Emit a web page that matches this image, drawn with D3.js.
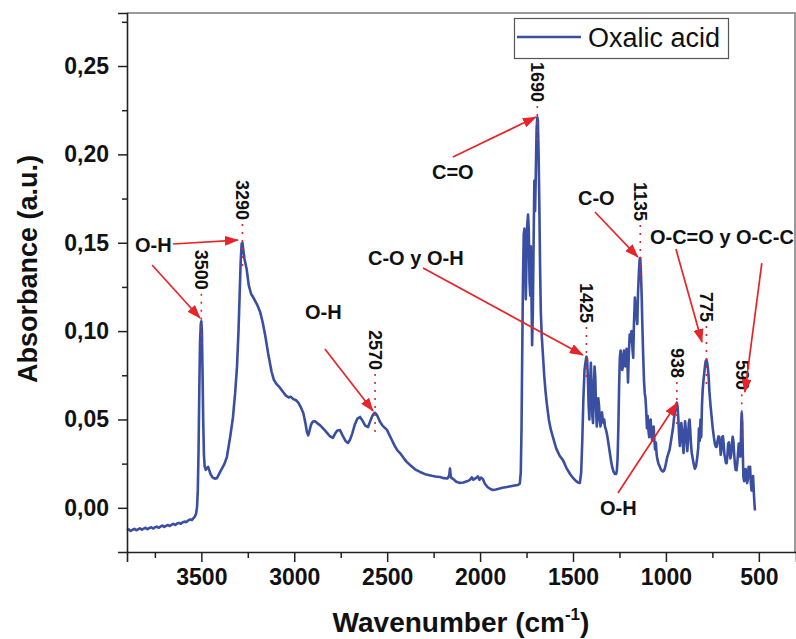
<!DOCTYPE html>
<html>
<head>
<meta charset="utf-8">
<script src="https://cdn.jsdelivr.net/npm/d3@7"></script>
<style>
  body { margin: 0; background: #fff; }
  text { font-family: "Liberation Sans", Arial, sans-serif; }
</style>
</head>
<body>
<svg id="chart" width="796" height="639"></svg>
<script>
// wavenumber (cm-1), absorbance (a.u.)
const oxalicAcid = [
  [3900, -0.0128], [3890, -0.0122], [3880, -0.0131], [3870, -0.0124], [3860, -0.0119],
  [3850, -0.0127], [3840, -0.0121], [3830, -0.0116], [3820, -0.0124], [3810, -0.0118],
  [3800, -0.0113], [3790, -0.0121], [3780, -0.0115], [3770, -0.011], [3760, -0.0117],
  [3750, -0.0111], [3740, -0.0106], [3730, -0.0113], [3720, -0.0107], [3710, -0.0101],
  [3700, -0.0108], [3690, -0.0102], [3680, -0.0097], [3670, -0.0103], [3660, -0.0096],
  [3650, -0.0091], [3640, -0.0097], [3630, -0.0089], [3620, -0.0085], [3610, -0.009],
  [3600, -0.0082], [3590, -0.0078], [3580, -0.008], [3570, -0.0071], [3560, -0.0066],
  [3550, -0.0069], [3542, -0.0058], [3535, -0.005], [3528, -0.0032], [3523, 0.0005],
  [3519, 0.01], [3515, 0.032], [3511, 0.066], [3507, 0.094], [3503, 0.104],
  [3500, 0.1055], [3497, 0.1], [3494, 0.08], [3490, 0.05], [3486, 0.03],
  [3482, 0.0235], [3476, 0.0215], [3470, 0.0225], [3464, 0.0232], [3458, 0.0215],
  [3450, 0.019], [3440, 0.0172], [3428, 0.0165], [3416, 0.0168], [3400, 0.02],
  [3390, 0.022], [3375, 0.025], [3362, 0.029], [3345, 0.04], [3330, 0.051],
  [3318, 0.065], [3308, 0.08], [3300, 0.1], [3294, 0.12], [3288, 0.14],
  [3283, 0.1495], [3279, 0.15], [3274, 0.146], [3268, 0.141], [3262, 0.138],
  [3256, 0.135], [3245, 0.126], [3232, 0.121], [3220, 0.119], [3200, 0.115],
  [3184, 0.111], [3170, 0.105], [3157, 0.098], [3140, 0.087], [3122, 0.077],
  [3110, 0.0725], [3095, 0.07], [3077, 0.068], [3060, 0.0655], [3045, 0.0635],
  [3030, 0.0625], [3018, 0.0628], [3005, 0.0615], [2992, 0.061], [2978, 0.0595],
  [2965, 0.057], [2951, 0.0535], [2940, 0.048], [2932, 0.043], [2925, 0.041],
  [2918, 0.0435], [2910, 0.047], [2900, 0.0488], [2888, 0.049], [2875, 0.0478],
  [2862, 0.0468], [2850, 0.0455], [2835, 0.0438], [2820, 0.042], [2808, 0.0405],
  [2792, 0.0396], [2780, 0.042], [2768, 0.0438], [2754, 0.044], [2740, 0.041],
  [2725, 0.038], [2711, 0.0367], [2700, 0.0385], [2688, 0.042], [2675, 0.0468],
  [2660, 0.0505], [2646, 0.0514], [2632, 0.0492], [2618, 0.0465], [2603, 0.0457],
  [2592, 0.0488], [2580, 0.052], [2570, 0.0535], [2565, 0.0538], [2555, 0.0525],
  [2540, 0.049], [2525, 0.0465], [2501, 0.0441], [2480, 0.0395], [2460, 0.0352],
  [2445, 0.0325], [2431, 0.031], [2410, 0.028], [2395, 0.026], [2377, 0.0242],
  [2350, 0.0218], [2323, 0.0203], [2290, 0.0188], [2260, 0.0181], [2240, 0.0177],
  [2216, 0.0174], [2195, 0.0168], [2175, 0.0166], [2166, 0.0185], [2162, 0.0222],
  [2157, 0.0172], [2146, 0.0164], [2128, 0.0148], [2108, 0.0141], [2090, 0.0143],
  [2070, 0.015], [2055, 0.0158], [2044, 0.0172], [2036, 0.0159], [2025, 0.0166],
  [2012, 0.0178], [2003, 0.0158], [1995, 0.0171], [1985, 0.0163], [1975, 0.0138],
  [1960, 0.0118], [1945, 0.0106], [1931, 0.0101], [1915, 0.0104], [1900, 0.0108],
  [1880, 0.0114], [1856, 0.0118], [1835, 0.0122], [1815, 0.0126], [1796, 0.0129],
  [1786, 0.0138], [1781, 0.02], [1777, 0.045], [1773, 0.09], [1769, 0.13],
  [1765, 0.155], [1761, 0.158], [1757, 0.14], [1754, 0.118], [1750, 0.142],
  [1746, 0.16], [1742, 0.166], [1738, 0.158], [1734, 0.128], [1730, 0.12],
  [1727, 0.148], [1724, 0.125], [1720, 0.092], [1716, 0.112], [1712, 0.15],
  [1708, 0.185], [1704, 0.168], [1700, 0.19], [1696, 0.214], [1692, 0.221],
  [1689, 0.219], [1685, 0.2], [1681, 0.17], [1677, 0.135], [1673, 0.11],
  [1668, 0.097], [1662, 0.087], [1655, 0.075], [1648, 0.066], [1641, 0.059],
  [1630, 0.05], [1620, 0.0445], [1608, 0.04], [1590, 0.0335], [1572, 0.0295],
  [1554, 0.027], [1535, 0.0225], [1515, 0.019], [1500, 0.0169], [1485, 0.0152],
  [1472, 0.0143], [1463, 0.0141], [1456, 0.02], [1450, 0.038], [1444, 0.062],
  [1438, 0.078], [1432, 0.083], [1428, 0.0855], [1424, 0.084], [1420, 0.074],
  [1416, 0.058], [1412, 0.05], [1408, 0.07], [1404, 0.082], [1400, 0.07],
  [1396, 0.052], [1392, 0.048], [1388, 0.066], [1384, 0.08], [1380, 0.074],
  [1376, 0.056], [1372, 0.046], [1368, 0.052], [1364, 0.062], [1360, 0.058],
  [1356, 0.05], [1352, 0.046], [1348, 0.052], [1344, 0.054], [1340, 0.05],
  [1336, 0.048], [1332, 0.05], [1328, 0.046], [1322, 0.044], [1316, 0.041],
  [1310, 0.037], [1303, 0.032], [1296, 0.027], [1289, 0.023], [1282, 0.0205],
  [1275, 0.0192], [1268, 0.0192], [1264, 0.021], [1260, 0.028], [1256, 0.045],
  [1252, 0.068], [1248, 0.085], [1244, 0.089], [1240, 0.086], [1235, 0.078],
  [1230, 0.081], [1226, 0.089], [1222, 0.086], [1218, 0.08], [1212, 0.09],
  [1208, 0.086], [1204, 0.071], [1200, 0.086], [1195, 0.098], [1190, 0.094],
  [1185, 0.1], [1180, 0.09], [1176, 0.085], [1172, 0.104], [1167, 0.119],
  [1162, 0.112], [1158, 0.108], [1154, 0.104], [1150, 0.122], [1145, 0.134],
  [1141, 0.141], [1138, 0.1415], [1134, 0.132], [1130, 0.118], [1126, 0.1],
  [1122, 0.085], [1118, 0.072], [1114, 0.065], [1110, 0.062], [1106, 0.055],
  [1102, 0.045], [1098, 0.052], [1094, 0.044], [1090, 0.04], [1086, 0.048],
  [1082, 0.05], [1078, 0.042], [1074, 0.038], [1070, 0.044], [1066, 0.046],
  [1062, 0.038], [1058, 0.033], [1054, 0.037], [1050, 0.03], [1045, 0.027],
  [1040, 0.025], [1034, 0.0235], [1028, 0.022], [1022, 0.021], [1016, 0.0205],
  [1010, 0.021], [1004, 0.023], [998, 0.026], [992, 0.029], [986, 0.031],
  [980, 0.033], [974, 0.037], [968, 0.041], [962, 0.045], [956, 0.051],
  [950, 0.055], [945, 0.058], [941, 0.0595], [937, 0.057], [933, 0.05],
  [929, 0.041], [925, 0.035], [921, 0.042], [917, 0.048], [913, 0.044],
  [909, 0.036], [905, 0.031], [901, 0.04], [897, 0.049], [893, 0.045],
  [889, 0.038], [885, 0.032], [881, 0.038], [877, 0.048], [873, 0.05],
  [869, 0.044], [865, 0.036], [861, 0.031], [856, 0.028], [850, 0.0245],
  [844, 0.0221], [838, 0.0235], [832, 0.028], [826, 0.034], [822, 0.045],
  [818, 0.038], [814, 0.05], [810, 0.04], [806, 0.058], [802, 0.067],
  [798, 0.072], [794, 0.076], [790, 0.08], [786, 0.083], [782, 0.0837],
  [778, 0.082], [774, 0.079], [770, 0.074], [766, 0.066], [760, 0.058],
  [754, 0.0514], [748, 0.045], [742, 0.04], [736, 0.036], [731, 0.0345],
  [727, 0.0345], [722, 0.038], [717, 0.0405], [713, 0.04], [709, 0.036],
  [705, 0.03], [701, 0.033], [697, 0.04], [693, 0.0405], [689, 0.036],
  [685, 0.03], [681, 0.028], [677, 0.0253], [673, 0.0253], [669, 0.03],
  [665, 0.0364], [661, 0.037], [657, 0.032], [653, 0.028], [649, 0.03],
  [645, 0.036], [641, 0.0402], [637, 0.038], [633, 0.031], [629, 0.025],
  [625, 0.0215], [620, 0.0213], [616, 0.025], [612, 0.031], [608, 0.0364],
  [604, 0.034], [600, 0.029], [597, 0.036], [594, 0.05], [592, 0.0537],
  [589, 0.048], [586, 0.03], [583, 0.0174], [579, 0.015], [575, 0.016],
  [571, 0.022], [567, 0.019], [563, 0.014], [559, 0.016], [555, 0.0232],
  [551, 0.021], [547, 0.0232], [543, 0.014], [539, 0.0098], [535, 0.014],
  [531, 0.018], [527, 0.009], [524, 0.003], [521, -0.0015]
];

const xTicks = [3500, 3000, 2500, 2000, 1500, 1000, 500];
const xMinorTicks = [3750, 3250, 2750, 2250, 1750, 1250, 750];
const yTicks = [0, 0.05, 0.1, 0.15, 0.2, 0.25];
const yMinorTicks = [0.025, 0.075, 0.125, 0.175, 0.225, 0.275];

// peak labels: text, wavenumber, absorbance of the label's top end
const peakLabels = ["3500", "3290", "2570", "1690", "1425", "1135", "938", "775", "590"];
const peakWn = [3500, 3279, 2565, 1692, 1428, 1138, 941, 782, 592];
const peakLabelTop = [0.146, 0.1855, 0.1006, 0.2523, 0.1272, 0.1844, 0.0904, 0.1221, 0.0836];

// band assignments: text, wavenumber of left edge, absorbance of middle
const bandLabels = ["O-H", "O-H", "C=O", "C-O y O-H", "C-O", "O-C=O y O-C-C", "O-H"];
const bandWn = [3857, 2942, 2259, 2603, 1473, 1086, 1355];
const bandAbs = [0.1487, 0.1108, 0.19, 0.1414, 0.1753, 0.1532, 0.0];

// arrows: from [wn, abs] to [wn, abs]
const arrows = [
  [3653, 0.1493, 3303, 0.1515],
  [3765, 0.1374, 3507, 0.1074],
  [2835, 0.0899, 2576, 0.0548],
  [2146, 0.1985, 1700, 0.2211],
  [2307, 0.1357, 1447, 0.0865],
  [1382, 0.1674, 1151, 0.1419],
  [946, 0.1464, 806, 0.0938],
  [484, 0.1385, 575, 0.0655],
  [1258, 0.0084, 941, 0.0593]
];

const blue = "#3a4ea2";
const red = "#e8242b";
const margin = { left: 127, right: 795, top: 13, bottom: 552 };

const x = d3.scaleLinear().domain([3900, 300]).range([margin.left, 796]);
const y = d3.scaleLinear().domain([-0.025, 0.28]).range([margin.bottom, margin.top]);

const comma = d3.formatLocale({ decimal: ",", thousands: ".", grouping: [3], currency: ["", ""] });
const fmt = comma.format(".2f");

const svg = d3.select("#chart");

svg.append("defs")
  .append("marker")
  .attr("id", "head")
  .attr("markerUnits", "userSpaceOnUse")
  .attr("viewBox", "0 0 14 10")
  .attr("markerWidth", 14)
  .attr("markerHeight", 10)
  .attr("refX", 13)
  .attr("refY", 5)
  .attr("orient", "auto")
  .append("path")
  .attr("d", "M0,0 L14,5 L0,10 Z")
  .attr("fill", red);

// frame
svg.append("path")
  .attr("d", `M${margin.left},${margin.top} H${margin.right} V${margin.bottom}`)
  .attr("fill", "none")
  .attr("stroke", "#7a7a7a")
  .attr("stroke-width", 1.5);

// spectrum
const line = d3.line().x((d) => x(d[0])).y((d) => y(d[1]));
svg.append("path")
  .datum(oxalicAcid)
  .attr("d", line)
  .attr("fill", "none")
  .attr("stroke", blue)
  .attr("stroke-width", 2.6)
  .attr("stroke-linejoin", "round");

// axes
const xAxis = svg.append("g").attr("transform", `translate(0,${margin.bottom})`);
xAxis.call(d3.axisBottom(x).tickValues(xTicks).tickSize(10).tickPadding(7).tickFormat(d3.format("d")));
xAxis.append("g").call(d3.axisBottom(x).tickValues(xMinorTicks).tickSize(6).tickFormat(""));

const yAxis = svg.append("g").attr("transform", `translate(${margin.left},0)`);
yAxis.call(d3.axisLeft(y).tickValues(yTicks).tickSize(9).tickPadding(9).tickFormat(fmt));
yAxis.append("g").call(d3.axisLeft(y).tickValues(yMinorTicks).tickSize(5).tickFormat(""));

svg.selectAll(".domain").attr("stroke", "#222").attr("stroke-width", 1.6);
svg.selectAll(".tick line").attr("stroke", "#222").attr("stroke-width", 1.5);
svg.selectAll(".tick text")
  .attr("fill", "#111")
  .style("font-size", "23px")
  .style("font-weight", "bold")
  .style("font-family", '"Liberation Sans", Arial, sans-serif');
xAxis.selectAll("g > g > path.domain").remove();
yAxis.selectAll("g > g > path.domain").remove();

// axis titles
svg.append("text")
  .attr("transform", `translate(37,269) rotate(-90)`)
  .attr("text-anchor", "middle")
  .style("font-size", "27px")
  .style("font-weight", "bold")
  .attr("fill", "#111")
  .text("Absorbance (a.u.)");

const xt = svg.append("text")
  .attr("x", 461)
  .attr("y", 632)
  .attr("text-anchor", "middle")
  .style("font-size", "28px")
  .style("font-weight", "bold")
  .attr("fill", "#111");
xt.append("tspan").text("Wavenumber (cm");
xt.append("tspan").attr("dy", -12).style("font-size", "17px").text("-1");
xt.append("tspan").attr("dy", 12).text(")");

// legend
const legend = svg.append("g");
legend.append("rect")
  .attr("x", 514.5).attr("y", 18.5).attr("width", 214).attr("height", 40)
  .attr("fill", "#fff").attr("stroke", "#555").attr("stroke-width", 1.2);
legend.append("line")
  .attr("x1", 517).attr("x2", 581).attr("y1", 37).attr("y2", 37)
  .attr("stroke", blue).attr("stroke-width", 2.6);
legend.append("text")
  .attr("x", 588).attr("y", 47)
  .style("font-size", "27px")
  .attr("fill", "#111")
  .text("Oxalic acid");

// peak labels with dotted guides
const peakMax = (wn) => d3.max(oxalicAcid.filter((d) => Math.abs(d[0] - wn) <= 6), (d) => d[1]);

peakLabels.forEach((label, i) => {
  const px = x(peakWn[i]);
  const top = y(peakLabelTop[i]);
  const t = svg.append("text")
    .attr("transform", `translate(${px},${top}) rotate(90)`)
    .attr("dominant-baseline", "central")
    .style("font-size", "18px")
    .style("font-weight", "bold")
    .attr("fill", "#111")
    .text(label);
  const len = t.node().getComputedTextLength();
  svg.append("line")
    .attr("x1", px).attr("x2", px)
    .attr("y1", top + len + 4)
    .attr("y2", y(peakMax(peakWn[i])) + 24)
    .attr("stroke", red)
    .attr("stroke-width", 1.6)
    .attr("stroke-dasharray", "2,6");
});

// band assignment labels
bandLabels.forEach((label, i) => {
  svg.append("text")
    .attr("x", x(bandWn[i]))
    .attr("y", y(bandAbs[i]))
    .attr("dominant-baseline", "central")
    .style("font-size", "20px")
    .style("font-weight", "bold")
    .attr("fill", "#111")
    .text(label);
});

svg.selectAll(".arrow")
  .data(arrows)
  .join("line")
  .attr("class", "arrow")
  .attr("x1", (d) => x(d[0]))
  .attr("y1", (d) => y(d[1]))
  .attr("x2", (d) => x(d[2]))
  .attr("y2", (d) => y(d[3]))
  .attr("stroke", red)
  .attr("stroke-width", 1.7)
  .attr("marker-end", "url(#head)");
</script>
</body>
</html>
